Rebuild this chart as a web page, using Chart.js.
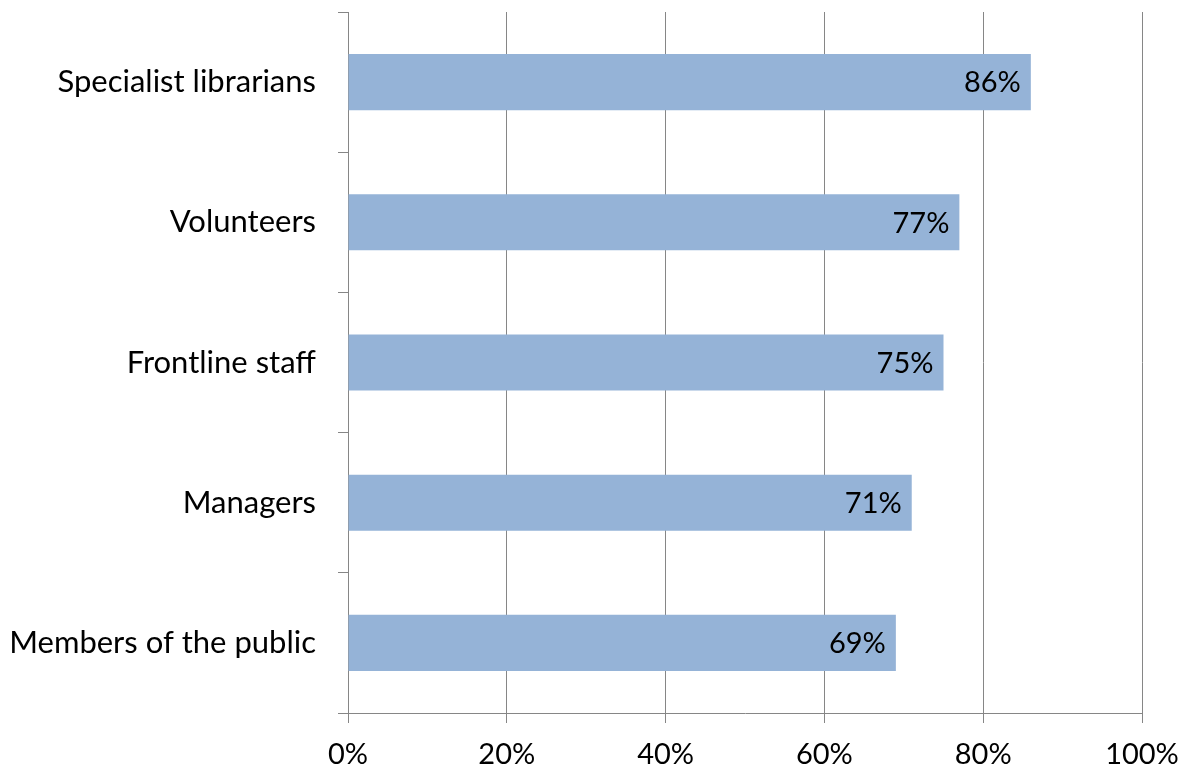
<!DOCTYPE html>
<html>
<head>
<meta charset="utf-8">
<script src="https://cdn.jsdelivr.net/npm/chart.js@4/dist/chart.umd.min.js"></script>
<style>
  html, body { margin: 0; padding: 0; background: #fff; }
  #wrap { width: 1189px; height: 772px; }
</style>
</head>
<body>
<div id="wrap"><canvas id="c" width="1189" height="772"></canvas></div>
<script>
const categories = ['Specialist librarians', 'Volunteers', 'Frontline staff', 'Managers', 'Members of the public'];
const shares = [86, 77, 75, 71, 69];
const xTicks = [0, 20, 40, 60, 80, 100];

const FONT = 'Lato, Carlito, "Open Sans", sans-serif';

// value labels drawn at the inner end of each bar
const barLabels = {
  id: 'barLabels',
  afterDatasetsDraw(chart) {
    const { ctx } = chart;
    const meta = chart.getDatasetMeta(0);
    ctx.save();
    ctx.font = '29px ' + FONT;
    ctx.fillStyle = '#000';
    ctx.textAlign = 'right';
    ctx.textBaseline = 'middle';
    meta.data.forEach((bar, i) => {
      ctx.fillText(shares[i] + '%', bar.x - 10, bar.y + 1);
    });
    ctx.restore();
  }
};

new Chart(document.getElementById('c'), {
  type: 'bar',
  data: {
    labels: categories,
    datasets: [{
      data: shares,
      backgroundColor: '#95B3D7',
      borderWidth: 0,
      categoryPercentage: 1,
      barPercentage: 0.4
    }]
  },
  options: {
    indexAxis: 'y',
    responsive: false,
    animation: false,
    layout: { padding: { top: 12, right: 47, left: 0, bottom: 0 } },
    plugins: { legend: { display: false }, tooltip: { enabled: false } },
    scales: {
      x: {
        min: 0, max: 100,
        afterBuildTicks(axis) { axis.ticks = xTicks.map(v => ({ value: v })); },
        afterFit(axis) { axis.height = 59; axis.paddingLeft = 0; axis.paddingRight = 0; },
        ticks: {
          callback: v => v + '%',
          font: { family: FONT, size: 29 },
          color: '#000',
          padding: 14,
          maxRotation: 0
        },
        grid: { color: '#868686', lineWidth: 1, tickLength: 10, drawTicks: true },
        border: { color: '#868686', width: 1 }
      },
      y: {
        afterFit(axis) { axis.width = 348; axis.paddingTop = 0; axis.paddingBottom = 0; },
        ticks: {
          font: { family: FONT, size: 31 },
          color: '#000',
          padding: 22
        },
        grid: { offset: true, drawOnChartArea: false, color: '#868686', tickLength: 10 },
        border: { color: '#868686', width: 1 }
      }
    }
  },
  plugins: [barLabels]
});
</script>
</body>
</html>
